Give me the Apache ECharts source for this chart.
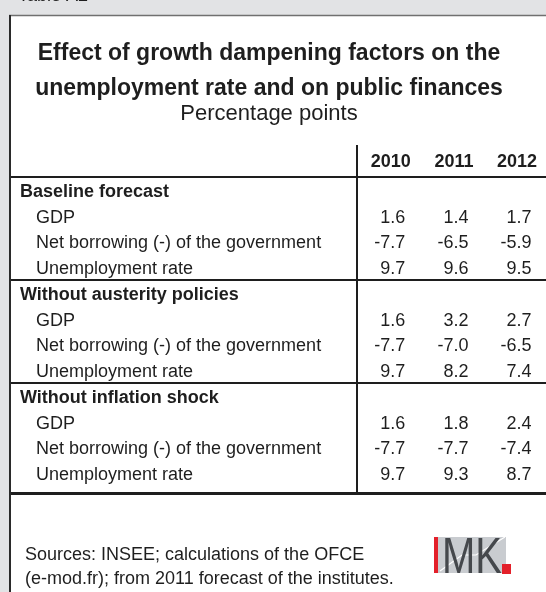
<!DOCTYPE html>
<html><head><meta charset="utf-8">
<script src="https://cdn.jsdelivr.net/npm/echarts@6/dist/echarts.min.js"></script>
<style>html,body{margin:0;padding:0;background:#e2e3e5}#c{width:546px;height:592px}</style>
</head><body><div id="c"></div>
<script>
// ---- data ----
const tableLabel = 'Table A2';
const titleText = 'Effect of growth dampening factors on the\nunemployment rate and on public finances';
const unitText = 'Percentage points';
const sourceText = 'Sources: INSEE; calculations of the OFCE\n(e-mod.fr); from 2011 forecast of the institutes.';
const years = ['2010', '2011', '2012'];
const sections = ['Baseline forecast', 'Without austerity policies', 'Without inflation shock'];
const indicators = ['GDP', 'Net borrowing (-) of the government', 'Unemployment rate'];
const baseline = [[1.6, 1.4, 1.7], [-7.7, -6.5, -5.9], [9.7, 9.6, 9.5]];
const withoutAusterity = [[1.6, 3.2, 2.7], [-7.7, -7.0, -6.5], [9.7, 8.2, 7.4]];
const withoutInflation = [[1.6, 1.8, 2.4], [-7.7, -7.7, -7.4], [9.7, 9.3, 8.7]];
const blocks = [baseline, withoutAusterity, withoutInflation];

// ---- layout ----
const FONT = '"Liberation Sans", Arial, sans-serif';
const INK = '#1e1e1e';
const X_MIN = -5, X_MAX = 3.5;      // label column spans [-5, 0.5], year columns at 1..3
const Y_MIN = -1.74, Y_MAX = 11.77; // rows 0..11 (inverse)
const perBlock = indicators.length + 1;

const rowLabelData = [];
const cellData = [];
const separators = [];
sections.forEach((s, si) => {
  const base = si * perBlock;
  separators.push({ yAxis: base - 0.5 });
  rowLabelData.push({ value: [X_MIN, base], name: s, label: { fontWeight: 'bold', distance: 10 } });
  indicators.forEach((ind, ii) => {
    rowLabelData.push({ value: [X_MIN, base + 1 + ii], name: ind, label: { distance: 26 } });
    blocks[si][ii].forEach((v, c) => {
      cellData.push({ value: [c + 1, base + 1 + ii, v] });
    });
  });
});

const chart = echarts.init(document.getElementById('c'), null, { renderer: 'canvas' });
chart.setOption({
  animation: false,
  backgroundColor: '#e2e3e5',
  textStyle: { fontFamily: FONT, color: INK },
  title: [
    { text: titleText, left: 269, top: 36, textAlign: 'center', padding: 0,
      textStyle: { fontFamily: FONT, fontSize: 23, fontWeight: 'bold', lineHeight: 35, color: INK } },
    { text: unitText, left: 269, top: 102, textAlign: 'center', padding: 0,
      textStyle: { fontFamily: FONT, fontSize: 22, fontWeight: 'normal', lineHeight: 24, color: INK } },
    { text: sourceText, left: 25, top: 543, padding: 0,
      textStyle: { fontFamily: FONT, fontSize: 18, fontWeight: 'normal', lineHeight: 24, color: INK } }
  ],
  grid: { left: 10, right: 0, top: 145, bottom: 99, outerBoundsMode: 'none' },
  xAxis: {
    type: 'value', position: 'top', min: X_MIN, max: X_MAX, interval: 1,
    axisLine: { show: false }, axisTick: { show: false }, splitLine: { show: false },
    axisLabel: {
      inside: true, margin: 8, fontFamily: FONT, fontSize: 18, fontWeight: 'bold', color: INK,
      padding: [0, 0, 0, 5], showMaxLabel: false,
      formatter: v => (Number.isInteger(v) && v >= 1 && v <= years.length) ? years[v - 1] : ''
    }
  },
  yAxis: { type: 'value', inverse: true, min: Y_MIN, max: Y_MAX, show: false },
  graphic: {
    elements: [
      { type: 'rect', z: -10, shape: { x: 10, y: 15, width: 540, height: 590 }, style: { fill: '#ffffff' } },
      { type: 'line', z: 10, shape: { x1: 9, y1: 15.5, x2: 546, y2: 15.5 }, style: { stroke: '#707070', lineWidth: 1.5 } },
      { type: 'line', z: 10, shape: { x1: 10, y1: 15, x2: 10, y2: 592 }, style: { stroke: '#2a2a2a', lineWidth: 2 } },
      { type: 'text', x: 18, y: -4, style: { text: tableLabel, font: '18px ' + FONT, fill: INK, verticalAlign: 'middle' } },
      // IMK logo
      { type: 'rect', shape: { x: 434, y: 537, width: 72, height: 36 }, style: { fill: '#c9ccd0' } },
      { type: 'polyline', shape: { points: [[440, 571], [462, 555], [476, 555], [505, 537]] }, style: { stroke: '#ffffff', lineWidth: 1.2, fill: null } },
      { type: 'rect', shape: { x: 434, y: 537, width: 4, height: 36 }, style: { fill: '#e3202a' } },
      { type: 'text', x: 442, y: 584, scaleX: 0.8, originX: 0, originY: 0,
        style: { text: 'MK', font: 'normal 50px ' + FONT, fill: '#45484c', verticalAlign: 'bottom' } },
      { type: 'rect', shape: { x: 502, y: 564, width: 9, height: 10 }, style: { fill: '#e3202a' } }
    ]
  },
  series: [
    {
      name: 'rows', type: 'scatter', symbolSize: 0, silent: true,
      itemStyle: { opacity: 1 },
      data: rowLabelData,
      label: { show: true, position: 'right', offset: [0, 2], formatter: p => p.name, fontFamily: FONT, fontSize: 18, color: INK }
    },
    {
      name: 'values', type: 'scatter', symbolSize: 0, silent: true,
      itemStyle: { opacity: 1 },
      data: cellData,
      label: { show: true, position: 'inside', align: 'right', offset: [17, 2],
        formatter: p => p.value[2].toFixed(1), fontFamily: FONT, fontSize: 18, color: INK },
      markLine: {
        silent: true, symbol: ['none', 'none'], label: { show: false },
        lineStyle: { type: 'solid', color: '#1e1e1e', width: 2, opacity: 1 },
        emphasis: { disabled: true },
        data: separators.concat([
          { yAxis: Y_MAX, lineStyle: { width: 3 } },
          { xAxis: 0.5 }
        ])
      }
    }
  ]
});
</script></body></html>
